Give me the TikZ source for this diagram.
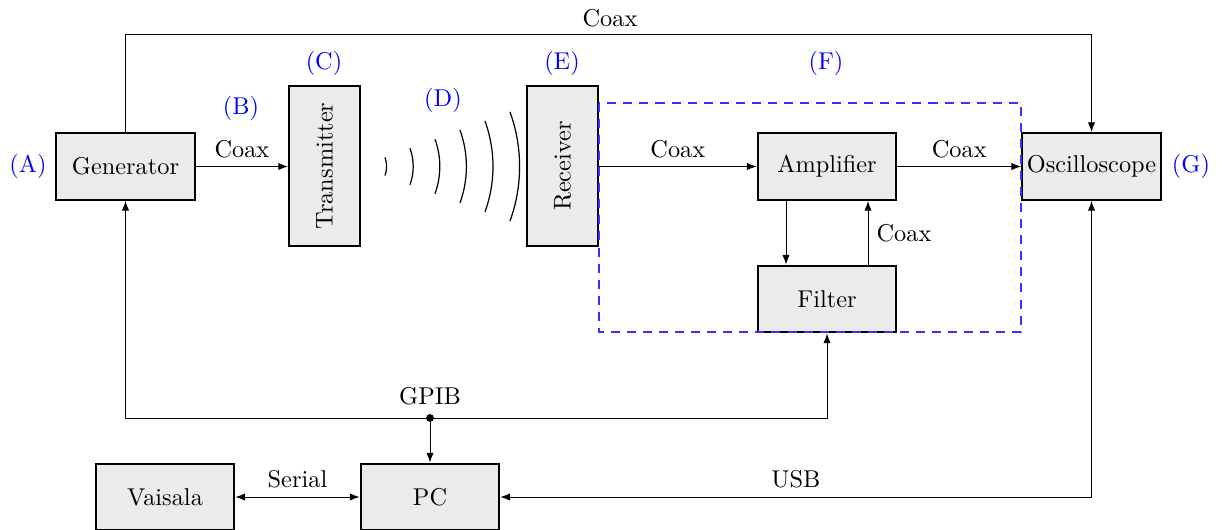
\documentclass[tikz,border=0pt]{standalone}
\usetikzlibrary{arrows.meta,calc}
\definecolor{boxfill}{RGB}{235,235,235}
\tikzset{
  blk/.style={draw,line width=0.8pt,fill=boxfill,inner sep=0pt,minimum width=57pt,minimum height=27.5pt},
  vblk/.style={draw,line width=0.8pt,fill=boxfill,inner sep=0pt,minimum width=29.2pt,minimum height=65.8pt},
  arr/.style={-{Latex[length=4pt,width=3pt]}},
  darr/.style={{Latex[length=4pt,width=3pt]}-{Latex[length=4pt,width=3pt]}},
  tag/.style={text=blue},
  wave/.style={line width=0.5pt},
  grp/.style={blue!80,dash pattern=on 3.7pt off 2.9pt,line width=0.5pt}
}
\begin{document}
\begin{tikzpicture}[x=0.411pt,y=-0.411pt]
\useasboundingbox (0,0) rectangle (1222,530);
% blocks
\node[blk] (gen) at (125.5,166.5) {Generator};
\node[vblk] (tx) at (324.5,166) {\rotatebox{90}{Transmitter}};
\node[vblk] (rx) at (562.5,166) {\rotatebox{90}{Receiver}};
\node[blk] (amp) at (827,166.5) {Amplifier};
\node[blk] (filt) at (827,299) {Filter};
\node[blk] (osc) at (1091.5,166.5) {Oscilloscope};
\node[blk] (vai) at (165,497) {Vaisala};
\node[blk] (pc) at (430,497) {PC};
% dashed group
\draw[grp] (599,103) rectangle (1021,332);
% tags
\node[tag] (tA) at (28,166) {(A)};
\node[tag] (tB) at (241,108) {(B)};
\node[tag] (tC) at (324,63) {(C)};
\node[tag] (tD) at (443,100) {(D)};
\node[tag] (tE) at (562,63) {(E)};
\node[tag] (tF) at (826,63) {(F)};
\node[tag] (tG) at (1191,166) {(G)};
% waves
\coordinate (src) at (360,166.5);
\foreach \k in {1,...,6}{
  \draw[wave] ($(src)+({26.6*\k*cos(20)},{-26.6*\k*sin(20)})$) arc[start angle=20,end angle=-20,radius={26.6*\k*0.411pt}];
}
% connectors
\draw[arr] (gen.north) -- (gen.north |- 0,34) -| (osc.north);
\node (coaxtop) at (610,18) {Coax};
\draw[arr] (gen.east) -- node[above] {Coax} (tx.west |- gen.east);
\draw[arr] (rx.east |- amp.west) -- node[above] {Coax} (amp.west);
\draw[arr] (amp.east) -- node[above] {Coax} (osc.west);
\draw[arr] ($(amp.south)+(-41,0)$) -- ($(filt.north)+(-41,0)$);
\draw[arr] ($(filt.north)+(41,0)$) -- node[right] {Coax} ($(amp.south)+(41,0)$);
\node[circle,fill,inner sep=0pt,minimum size=3.2pt] (gp) at (430,418) {};
\node[above] (gpl) at (gp.north) {GPIB};
\draw[darr] (gen.south) |- (filt.south |- gp) -- (filt.south);
\draw[arr] (gp) -- (pc.north);
\draw[darr] (vai.east) -- node[above] {Serial} (pc.west);
\draw[darr] (osc.south) |- node[above,pos=0.75] {USB} (pc.east);
\end{tikzpicture}
\end{document}
